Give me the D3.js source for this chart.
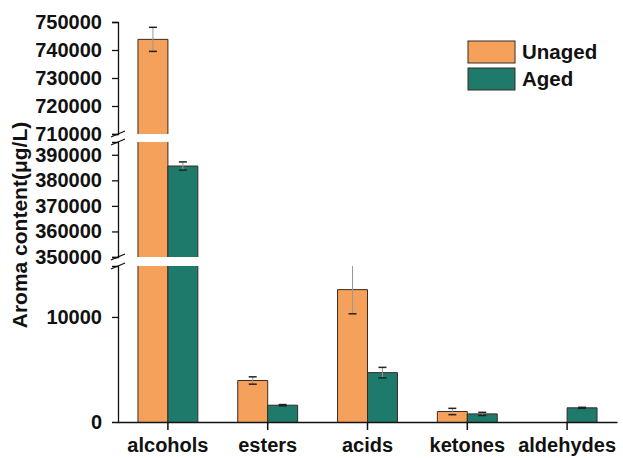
<!DOCTYPE html>
<html>
<head>
<meta charset="utf-8">
<script src="https://cdn.jsdelivr.net/npm/d3@7"></script>
<style>
  body { margin: 0; background: #fff; }
  text { font-family: "Liberation Sans", Arial, sans-serif; font-weight: bold; fill: #111; }
</style>
</head>
<body>
<div id="chart"></div>
<script>
var svgWidth = 623;
var svgHeight = 458;

// data
var categories = ["alcohols", "esters", "acids", "ketones", "aldehydes"];
var seriesNames = ["Unaged", "Aged"];
var unaged = [743800, 3950, 12600, 1000, null];
var unagedErr = [4300, 350, 2300, 300, null];
var aged = [385600, 1600, 4700, 770, 1350];
var agedErr = [1600, 60, 500, 150, 50];
var colors = ["#F5A15C", "#1E7A6B"];

// broken y axis: three segments, each with its own scale
var segments = [
  { domain: [0, 14850], range: [422, 266], ticks: [0, 10000] },
  { domain: [350000, 395000], range: [257, 142], ticks: [350000, 360000, 370000, 380000, 390000] },
  { domain: [710000, 750000], range: [134, 22], ticks: [710000, 720000, 730000, 740000, 750000] }
];
segments.forEach(function(s) {
  s.scale = d3.scaleLinear().domain(s.domain).range(s.range);
});

var axisX = 118;

var svg = d3.select("#chart")
  .append("svg")
  .attr("width", svgWidth)
  .attr("height", svgHeight);

var x0 = d3.scaleBand()
  .domain(categories)
  .range([axisX, 617])
  .paddingInner(0.4)
  .paddingOuter(0.2);

var x1 = d3.scaleBand()
  .domain(seriesNames)
  .range([0, x0.bandwidth()]);

var rows = [];
categories.forEach(function(c, i) {
  rows.push({ cat: c, series: "Unaged", value: unaged[i], err: unagedErr[i], color: colors[0] });
  rows.push({ cat: c, series: "Aged", value: aged[i], err: agedErr[i], color: colors[1] });
});
rows = rows.filter(function(d) { return d.value != null; });

// bars, one piece per segment (no outline across the break)
segments.forEach(function(s) {
  var g = svg.append("g");
  var inSeg = rows.filter(function(d) { return d.value > s.domain[0]; });
  var piece = g.selectAll("g.piece")
    .data(inSeg)
    .enter()
    .append("g");

  piece.append("rect")
    .attr("x", function(d) { return x0(d.cat) + x1(d.series); })
    .attr("width", x1.bandwidth())
    .attr("y", function(d) { return s.scale(Math.min(d.value, s.domain[1])); })
    .attr("height", function(d) { return s.scale(s.domain[0]) - s.scale(Math.min(d.value, s.domain[1])); })
    .attr("fill", function(d) { return d.color; });

  piece.append("path")
    .attr("fill", "none")
    .attr("stroke", "#3a2a20")
    .attr("stroke-width", 1)
    .attr("d", function(d) {
      var xl = x0(d.cat) + x1(d.series), xr = xl + x1.bandwidth();
      var yb = s.scale(s.domain[0]), yt = s.scale(Math.min(d.value, s.domain[1]));
      if (d.value <= s.domain[1]) {
        return `M${xl},${yb}V${yt}H${xr}V${yb}`;
      }
      return `M${xl},${yb}V${yt}M${xr},${yt}V${yb}`;
    });

  // error bars that fall in this segment
  rows.forEach(function(d) {
    if (d.err == null) return;
    var lo = d.value - d.err, hi = d.value + d.err;
    if (hi < s.domain[0] || lo > s.domain[1]) return;
    var cx = x0(d.cat) + x1(d.series) + x1.bandwidth() / 2;
    var yLo = s.scale(Math.max(lo, s.domain[0]));
    var yHi = s.scale(Math.min(hi, s.domain[1]));
    g.append("line")
      .attr("x1", cx).attr("x2", cx)
      .attr("y1", yLo).attr("y2", yHi)
      .attr("stroke", "#999").attr("stroke-width", 1);
    if (lo >= s.domain[0]) {
      g.append("line")
        .attr("x1", cx - 4).attr("x2", cx + 4)
        .attr("y1", s.scale(lo)).attr("y2", s.scale(lo))
        .attr("stroke", "#222").attr("stroke-width", 1.5);
    }
    if (hi <= s.domain[1]) {
      g.append("line")
        .attr("x1", cx - 4).attr("x2", cx + 4)
        .attr("y1", s.scale(hi)).attr("y2", s.scale(hi))
        .attr("stroke", "#222").attr("stroke-width", 1.5);
    }
  });

  // axis piece
  var axis = d3.axisLeft(s.scale)
    .tickValues(s.ticks)
    .tickSize(6)
    .tickPadding(10)
    .tickFormat(d3.format("d"));
  var ag = svg.append("g")
    .attr("transform", `translate(${axisX},0)`)
    .call(axis);
  ag.select(".domain").attr("stroke", "#111").attr("stroke-width", 1.3);
  ag.selectAll(".tick line").attr("stroke", "#111").attr("stroke-width", 1.3);
  ag.selectAll(".tick text")
    .style("font-size", "20px")
    .style("font-family", "Liberation Sans, Arial, sans-serif")
    .style("font-weight", "bold")
    .attr("fill", "#111");
  ag.selectAll(".tick").filter(function(d) { return d === 0; }).select("line").remove();
});

// break marks on the axis
[segments[0].range[1], segments[1].range[1]].forEach(function(yTop, i) {
  var yBot = i === 0 ? segments[1].range[0] : segments[2].range[0];
  [yBot, yTop].forEach(function(y) {
    svg.append("line")
      .attr("x1", axisX - 7).attr("x2", axisX + 7)
      .attr("y1", y + 3).attr("y2", y - 3)
      .attr("stroke", "#111").attr("stroke-width", 1.3);
  });
});

// x axis
var xAxis = d3.axisBottom(x0).tickSize(8).tickPadding(8).tickSizeOuter(0);
var xg = svg.append("g")
  .attr("transform", "translate(0,422)")
  .call(xAxis);
xg.select(".domain").attr("stroke", "#111").attr("stroke-width", 1.3);
xg.selectAll(".tick line").attr("stroke", "#111").attr("stroke-width", 1.5);
xg.selectAll(".tick text")
  .style("font-size", "20px")
  .style("font-family", "Liberation Sans, Arial, sans-serif")
  .style("font-weight", "bold")
  .attr("fill", "#111");

// y title
svg.append("text")
  .attr("transform", "translate(27,225) rotate(-90)")
  .attr("text-anchor", "middle")
  .style("font-size", "21px")
  .text("Aroma content(μg/L)");

// legend
var legend = svg.append("g");
seriesNames.forEach(function(name, i) {
  legend.append("rect")
    .attr("x", 468).attr("y", 41 + i * 27)
    .attr("width", 47).attr("height", 22)
    .attr("fill", colors[i])
    .attr("stroke", "#3a2a20").attr("stroke-width", 1);
  legend.append("text")
    .attr("x", 522).attr("y", 59 + i * 27)
    .style("font-size", "20.5px")
    .text(name);
});
</script>
</body>
</html>
